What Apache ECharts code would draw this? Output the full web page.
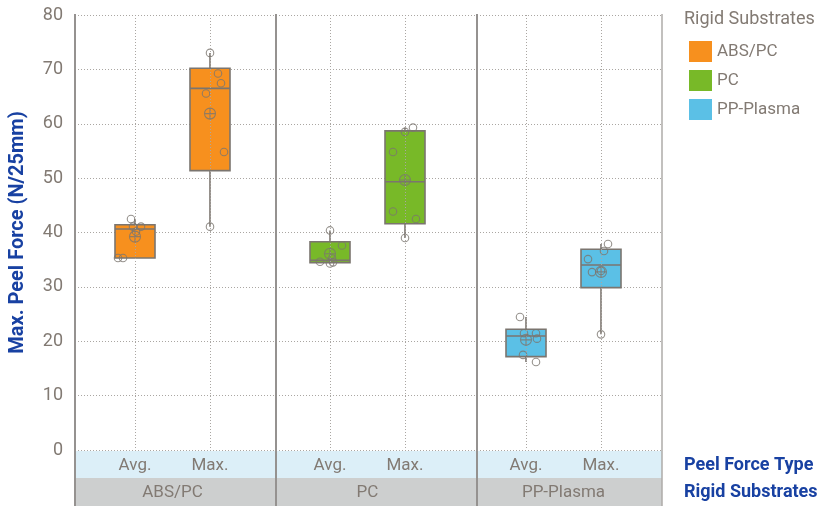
<!DOCTYPE html>
<html>
<head>
<meta charset="utf-8">
<script src="https://cdn.jsdelivr.net/npm/echarts@6/dist/echarts.min.js"></script>
<style>
  html, body { margin: 0; padding: 0; background: #ffffff; }
  #chart { width: 824px; height: 506px; }
</style>
</head>
<body>
<div id="chart"></div>
<script>
// ---- data ----
const substrates = ['ABS/PC', 'PC', 'PP-Plasma'];
const forceTypes = ['Avg.', 'Max.'];
const yMin = 0;
const yMax = 80;
const yStep = 10;

// individual peel-force measurements (N/25mm)
const absPcAvg = [42.3, 40.9, 40.9, 40.0, 35.1, 35.1];
const absPcMax = [73.0, 69.2, 67.4, 65.5, 54.7, 40.9];
const pcAvg    = [40.2, 37.4, 35.0, 34.4, 34.3, 34.1];
const pcMax    = [59.2, 58.4, 54.7, 43.7, 42.3, 38.8];
const ppAvg    = [24.2, 21.2, 21.2, 20.2, 17.2, 15.9];
const ppMax    = [37.7, 36.4, 34.9, 32.7, 32.5, 21.0];

// ---- presentation ----
const groups = [[absPcAvg, absPcMax], [pcAvg, pcMax], [ppAvg, ppMax]];
// horizontal spread (px) of the single points inside each box
const spread = [
  [[-4, -2, 6, 1, -17, -12], [0, 8, 11, -4, 14, 0]],
  [[0, 12, 2, -10, 3, 0], [8, 0, -12, -12, 11, 0]],
  [[-6, -2, 10, 11, -3, 10], [7, 3, -13, 0, -9, 0]]
];
const boxColors = ['#F7901E', '#78B928', '#5BC0E6'];
const FONT = "Roboto, 'Liberation Sans', sans-serif";
const GRAY_TEXT = '#827a73';
const BLUE_TEXT = '#1841A2';
const EDGE = '#7b756f';

const plotLeft = 75, plotRight = 662, plotTop = 15, plotBottom = 450;
const panelGrids = [97.5, 292.5, 488.5]; // left edge of each panel's category band pair
const bandW = 150;

// exclusive-method quantile (as used by spreadsheet box plots)
function quantileExc(sorted, p) {
  const n = sorted.length;
  const pos = p * (n + 1);
  const i = Math.floor(pos);
  const f = pos - i;
  if (i < 1) return sorted[0];
  if (i >= n) return sorted[n - 1];
  return sorted[i - 1] + f * (sorted[i] - sorted[i - 1]);
}
function stats(values) {
  const s = values.slice().sort((a, b) => a - b);
  return [s[0], quantileExc(s, 0.25), quantileExc(s, 0.5), quantileExc(s, 0.75), s[s.length - 1]];
}
function mean(values) {
  return values.reduce((a, b) => a + b, 0) / values.length;
}

const meanSymbol = 'path://M0 10A10 10 0 1 1 20 10A10 10 0 1 1 0 10ZM10 0L10 20M0 10L20 10';

const grids = [{ left: plotLeft, right: 824 - plotRight, top: plotTop, bottom: 506 - plotBottom }];
const xAxes = [{ type: 'value', gridIndex: 0, show: false, min: 0, max: 1 }];
const yAxes = [{
  type: 'value', gridIndex: 0, min: yMin, max: yMax, interval: yStep,
  name: 'Max. Peel Force (N/25mm)', nameLocation: 'middle', nameGap: 47,
  nameTextStyle: { color: BLUE_TEXT, fontSize: 20, fontWeight: 'bold', fontFamily: FONT },
  axisLine: { show: false }, axisTick: { show: false },
  axisLabel: { color: GRAY_TEXT, fontSize: 18, margin: 12, fontFamily: FONT },
  splitLine: { show: true, lineStyle: { color: '#aaa6a2', type: [1, 2], width: 1 } }
}];
const series = [];

groups.forEach((pair, g) => {
  const gi = g + 1;
  grids.push({ left: panelGrids[g], width: bandW, top: plotTop, bottom: 506 - plotBottom });
  xAxes.push({
    type: 'category', gridIndex: gi, data: forceTypes, boundaryGap: true,
    name: substrates[g], nameLocation: 'middle', nameGap: 36,
    nameTextStyle: { color: GRAY_TEXT, fontSize: 17, fontFamily: FONT },
    axisLine: { show: false }, axisTick: { show: false },
    axisLabel: { color: GRAY_TEXT, fontSize: 17, margin: 9, fontFamily: FONT },
    splitLine: { show: false }
  });
  yAxes.push({ type: 'value', gridIndex: gi, min: yMin, max: yMax, interval: yStep, show: false, splitLine: { show: false } });

  const boxData = pair.map((vals, k) => [k].concat(stats(vals)));
  series.push({
    name: substrates[g], type: 'custom', xAxisIndex: gi, yAxisIndex: gi,
    itemStyle: { color: boxColors[g] },
    encode: { x: 0, y: [1, 2, 3, 4, 5] },
    data: boxData,
    z: 3,
    renderItem: function (params, api) {
      const c = api.value(0);
      const pMin = api.coord([c, api.value(1)]);
      const pQ1 = api.coord([c, api.value(2)]);
      const pMed = api.coord([c, api.value(3)]);
      const pQ3 = api.coord([c, api.value(4)]);
      const pMax = api.coord([c, api.value(5)]);
      const x = pMed[0];
      const hw = 20;
      const lineStyle = { stroke: EDGE, lineWidth: 1.6 };
      return {
        type: 'group',
        children: [
          { type: 'line', shape: { x1: x, y1: pMax[1], x2: x, y2: pQ3[1] }, style: lineStyle },
          { type: 'line', shape: { x1: x, y1: pQ1[1], x2: x, y2: pMin[1] }, style: lineStyle },
          { type: 'rect', shape: { x: x - hw, y: pQ3[1], width: hw * 2, height: pQ1[1] - pQ3[1] },
            style: { fill: boxColors[g], stroke: EDGE, lineWidth: 1.6 } },
          { type: 'line', shape: { x1: x - hw, y1: pMed[1], x2: x + hw, y2: pMed[1] }, style: lineStyle }
        ]
      };
    }
  });

  // single measurements
  const pts = [];
  pair.forEach((vals, k) => {
    vals.forEach((v, j) => {
      pts.push({ value: [k, v], symbolOffset: [spread[g][k][j], 0] });
    });
  });
  series.push({
    name: substrates[g] + ' points', type: 'scatter', xAxisIndex: gi, yAxisIndex: gi,
    data: pts, symbol: 'circle', symbolSize: 7.5, z: 4, silent: true,
    itemStyle: { color: 'rgba(0,0,0,0)', borderColor: EDGE, borderWidth: 1.1 },
    markLine: {
      silent: true, symbol: 'none', label: { show: false },
      lineStyle: { color: '#aaa6a2', type: [1, 2], width: 1 },
      data: forceTypes.map(f => ({ xAxis: f }))
    }
  });

  // mean markers
  series.push({
    name: substrates[g] + ' mean', type: 'scatter', xAxisIndex: gi, yAxisIndex: gi,
    data: pair.map((vals, k) => [k, mean(vals)]),
    symbol: meanSymbol, symbolSize: 11, z: 5, silent: true,
    itemStyle: { color: 'rgba(0,0,0,0)', borderColor: EDGE, borderWidth: 1.1 }
  });
});

const lineGray = '#959290';
const graphic = [
  { type: 'rect', z: -10, shape: { x: plotLeft, y: plotBottom + 1, width: plotRight - plotLeft, height: 27 }, style: { fill: '#DCEFF8' } },
  { type: 'rect', z: -10, shape: { x: plotLeft, y: plotBottom + 28, width: plotRight - plotLeft, height: 506 - plotBottom - 28 }, style: { fill: '#CDCFCF' } },
  { type: 'line', z: 10, shape: { x1: plotLeft, y1: plotTop - 1, x2: plotLeft, y2: 506 }, style: { stroke: lineGray, lineWidth: 2 } },
  { type: 'line', z: 10, shape: { x1: 276, y1: plotTop - 1, x2: 276, y2: 506 }, style: { stroke: lineGray, lineWidth: 2 } },
  { type: 'line', z: 10, shape: { x1: 477, y1: plotTop - 1, x2: 477, y2: 506 }, style: { stroke: lineGray, lineWidth: 2 } },
  { type: 'line', z: 10, shape: { x1: plotRight, y1: plotTop - 1, x2: plotRight, y2: 506 }, style: { stroke: '#aeaba8', lineWidth: 1.5 } },
  { type: 'text', left: 684, top: 10, style: { text: 'Rigid Substrates', fill: GRAY_TEXT, font: '18px ' + FONT } },
  { type: 'text', left: 684, top: 456, style: { text: 'Peel Force Type', fill: BLUE_TEXT, font: 'bold 18px ' + FONT } },
  { type: 'text', left: 684, top: 483, style: { text: 'Rigid Substrates', fill: BLUE_TEXT, font: 'bold 18px ' + FONT } }
];

const chart = echarts.init(document.getElementById('chart'), null, { renderer: 'canvas' });
chart.setOption({
  animation: false,
  backgroundColor: '#ffffff',
  textStyle: { fontFamily: FONT },
  grid: grids,
  xAxis: xAxes,
  yAxis: yAxes,
  legend: {
    data: substrates, orient: 'vertical', left: 684, top: 36,
    icon: 'rect', itemWidth: 23, itemHeight: 21, itemGap: 8,
    selectedMode: false,
    textStyle: { color: GRAY_TEXT, fontSize: 17, fontFamily: FONT }
  },
  graphic: graphic,
  series: series
});
</script>
</body>
</html>
